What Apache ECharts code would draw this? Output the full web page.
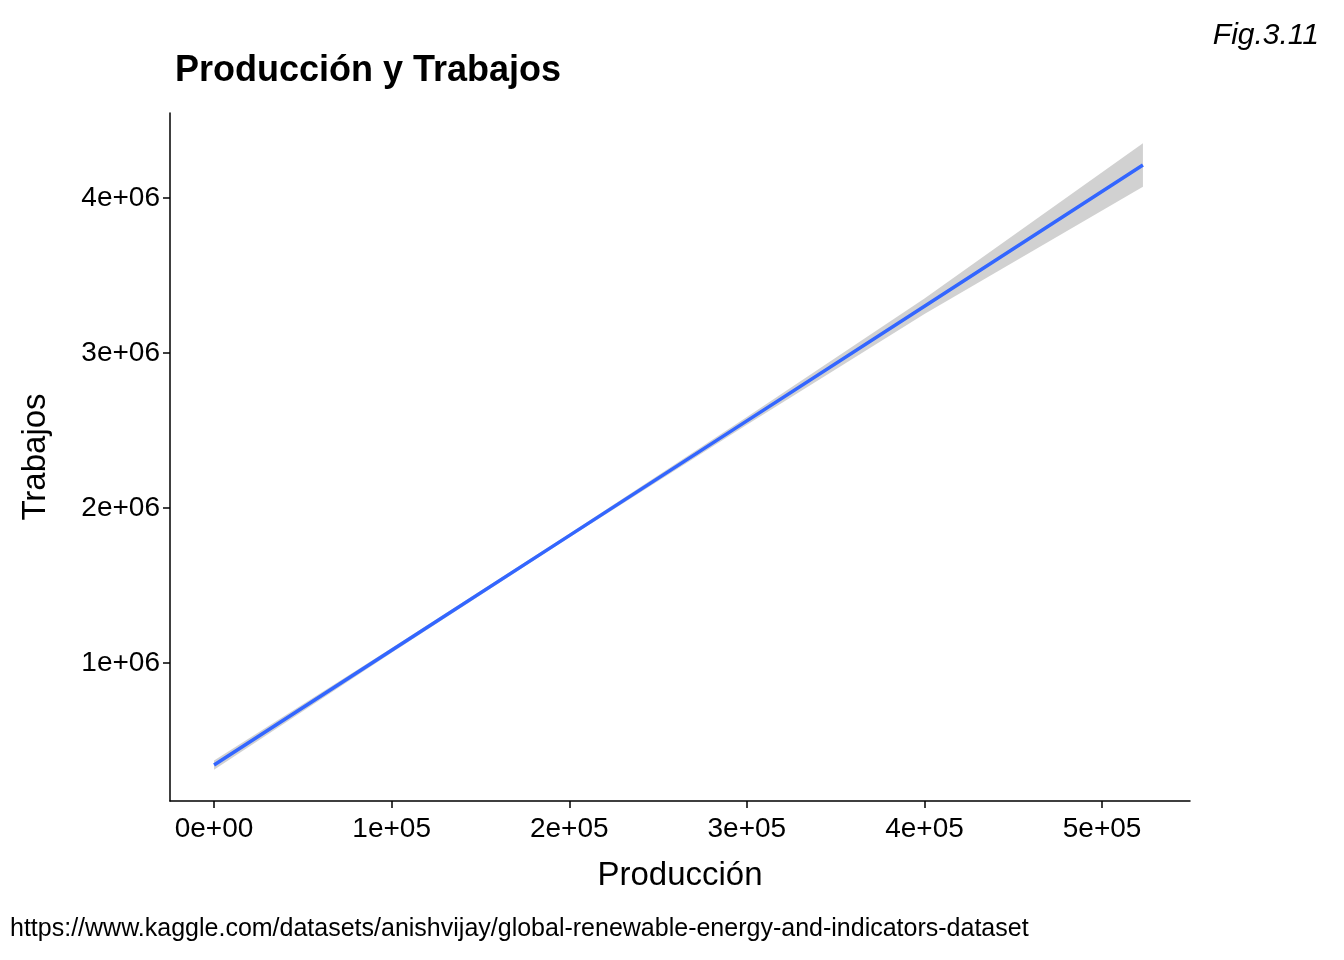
<!DOCTYPE html>
<html><head><meta charset="utf-8">
<script src="https://cdn.jsdelivr.net/npm/echarts@6/dist/echarts.min.js"></script>
<style>body{margin:0}#c{width:1344px;height:960px}</style></head>
<body><div id="c"></div>
<script>
// fitted line and confidence half-width
var produccion = [0, 100000, 200000, 300000, 400000, 523000];
var trabajos = [342000, 1082000, 1822000, 2562000, 3302000, 4213000];
var halfBand = [30000, 15000, 12000, 25000, 50000, 140000];
var xTicks = ['0e+00', '1e+05', '2e+05', '3e+05', '4e+05', '5e+05'];
var yTicks = { 1000000: '1e+06', 2000000: '2e+06', 3000000: '3e+06', 4000000: '4e+06' };

var fit = produccion.map(function (x, i) { return [x, trabajos[i]]; });

var font = 'Liberation Sans, Arial, sans-serif';
var axisCol = { color: '#000', width: 1.5 };
var chart = echarts.init(document.getElementById('c'));
chart.setOption({
  animation: false,
  title: [
    { text: 'Producción y Trabajos', left: 170, top: 48,
      textStyle: { fontFamily: font, fontSize: 36, fontWeight: 'bold', color: '#000' } },
    { text: 'Fig.3.11', right: 20, top: 16,
      textStyle: { fontFamily: font, fontSize: 30, fontStyle: 'italic', fontWeight: 'normal', color: '#000' } },
    { text: 'https://www.kaggle.com/datasets/anishvijay/global-renewable-energy-and-indicators-dataset',
      left: 5, top: 912, textStyle: { fontFamily: font, fontSize: 25, fontWeight: 'normal', color: '#000' } }
  ],
  grid: { left: 170, right: 154, top: 113, bottom: 159 },
  xAxis: {
    type: 'value', min: -24800, max: 549500,
    name: 'Producción', nameLocation: 'middle', nameGap: 58,
    nameTextStyle: { fontFamily: font, fontSize: 33, color: '#000' },
    splitLine: { show: false },
    axisLine: { onZero: false, lineStyle: axisCol },
    axisTick: { customValues: [0, 100000, 200000, 300000, 400000, 500000], length: 7, lineStyle: axisCol },
    axisLabel: { fontFamily: font, fontSize: 28, color: '#000', margin: 14,
      customValues: [0, 100000, 200000, 300000, 400000, 500000],
      formatter: function (v) { return xTicks[Math.round(v / 100000)]; } }
  },
  yAxis: {
    type: 'value', min: 110000, max: 4548000,
    name: 'Trabajos', nameLocation: 'middle', nameGap: 118, nameRotate: 90,
    nameTextStyle: { fontFamily: font, fontSize: 33, color: '#000' },
    splitLine: { show: false },
    axisLine: { show: true, onZero: false, lineStyle: axisCol },
    axisTick: { show: true, customValues: [1000000, 2000000, 3000000, 4000000], length: 7, lineStyle: axisCol },
    axisLabel: { fontFamily: font, fontSize: 28, color: '#000', margin: 10,
      customValues: [1000000, 2000000, 3000000, 4000000],
      formatter: function (v) { return yTicks[v]; } }
  },
  series: [
    { type: 'custom', silent: true, data: [0],
      renderItem: function (params, api) {
        var pts = [], i;
        for (i = 0; i < produccion.length; i++) pts.push(api.coord([produccion[i], trabajos[i] + halfBand[i]]));
        for (i = produccion.length - 1; i >= 0; i--) pts.push(api.coord([produccion[i], trabajos[i] - halfBand[i]]));
        return { type: 'polygon', shape: { points: pts }, style: { fill: '#cccccc', opacity: 0.9 } };
      } },
    { type: 'line', data: fit, symbol: 'none',
      lineStyle: { color: '#3366ff', width: 3.5 } }
  ]
});
</script></body></html>
